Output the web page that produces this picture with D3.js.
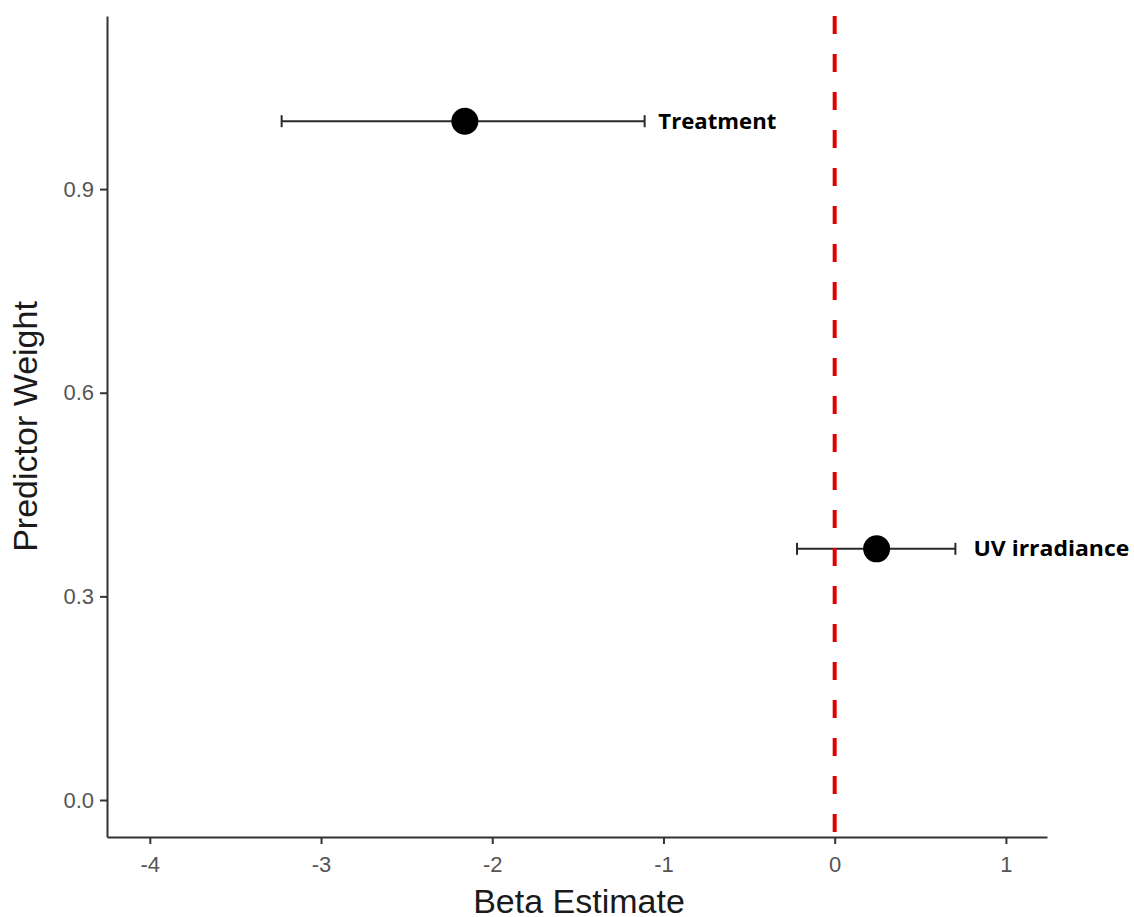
<!DOCTYPE html>
<html>
<head>
<meta charset="utf-8">
<script src="https://cdn.jsdelivr.net/npm/d3@7"></script>
<style>
  body { margin: 0; background: #fff; }
  .axis path, .axis line { stroke: #333; stroke-width: 2; }
  .axis text { fill: #555; font-family: "Liberation Sans", Arial, sans-serif; font-size: 22px; }
</style>
</head>
<body>
<div id="chartContainer"></div>
<script>
// predictors and their model-averaged estimates
var predictors = ["Treatment", "UV irradiance"];
var betaEstimate = [-2.16, 0.245];
var betaLow = [-3.23, -0.22];
var betaHigh = [-1.11, 0.705];
var predictorWeight = [1.0, 0.37];
// where the label text starts (beta units)
var labelAt = [-1.03, 0.81];

var xTicks = [-4, -3, -2, -1, 0, 1];
var yTicks = [0.0, 0.3, 0.6, 0.9];

var width = 1134;
var height = 917;
var margin = {top: 16, right: 87, bottom: 80, left: 107};

var svg = d3.select('#chartContainer')
    .append('svg')
    .attr("width", width)
    .attr("height", height);

svg.append('rect').attr("width", width).attr("height", height).attr("fill", "#fff");

var xScale = d3.scaleLinear().domain([-4.25, 1.24]).range([margin.left, width - margin.right]);
var yScale = d3.scaleLinear().domain([-0.0545, 1.155]).range([height - margin.bottom, margin.top]);

var rows = predictors.map(function(p, i) {
  return {name: p, est: betaEstimate[i], lo: betaLow[i], hi: betaHigh[i], w: predictorWeight[i], lab: labelAt[i]};
});

/*** axes ***/
var xAxis = d3.axisBottom(xScale).tickValues(xTicks).tickSize(7).tickSizeOuter(0).tickPadding(12)
    .tickFormat(function(d) { return String(d); });
svg.append('g').attr("class", "axis")
    .attr("transform", "translate(0," + (height - margin.bottom) + ")")
    .call(xAxis);

var yAxis = d3.axisLeft(yScale).tickValues(yTicks).tickSize(7).tickSizeOuter(0).tickPadding(6)
    .tickFormat(d3.format(".1f"));
svg.append('g').attr("class", "axis")
    .attr("transform", "translate(" + margin.left + ",0)")
    .call(yAxis);

// axis titles
svg.append('text')
    .attr("x", (margin.left + width - margin.right) / 2 + 2)
    .attr("y", 913)
    .attr("text-anchor", "middle")
    .style("font-family", "Liberation Sans, Arial, sans-serif")
    .style("font-size", "34px")
    .style("fill", "#1a1a1a")
    .text("Beta Estimate");

svg.append('text')
    .attr("transform", "translate(37," + (margin.top + height - margin.bottom) / 2 + ") rotate(-90)")
    .attr("text-anchor", "middle")
    .style("font-family", "Liberation Sans, Arial, sans-serif")
    .style("font-size", "34px")
    .style("fill", "#1a1a1a")
    .text("Predictor Weight");

/*** error bars ***/
var bars = svg.append('g').attr("class", "errorbars");
var capH = 6;

bars.selectAll('line.span').data(rows).enter().append('line')
    .attr("x1", function(d) { return xScale(d.lo); })
    .attr("x2", function(d) { return xScale(d.hi); })
    .attr("y1", function(d) { return yScale(d.w); })
    .attr("y2", function(d) { return yScale(d.w); })
    .attr("stroke", "#2a2a2a").attr("stroke-width", 2);

["lo", "hi"].forEach(function(k) {
  bars.selectAll('line.cap-' + k).data(rows).enter().append('line')
      .attr("x1", function(d) { return xScale(d[k]); })
      .attr("x2", function(d) { return xScale(d[k]); })
      .attr("y1", function(d) { return yScale(d.w) - capH; })
      .attr("y2", function(d) { return yScale(d.w) + capH; })
      .attr("stroke", "#2a2a2a").attr("stroke-width", 2);
});

// points
svg.append('g').selectAll('circle').data(rows).enter().append('circle')
    .attr("cx", function(d) { return xScale(d.est); })
    .attr("cy", function(d) { return yScale(d.w); })
    .attr("r", 13.5)
    .attr("fill", "#000");

// labels
var labelWidth = {"Treatment": 118, "UV irradiance": 156};
svg.append('g').selectAll('text').data(rows).enter().append('text')
    .attr("x", function(d) { return xScale(d.lab); })
    .attr("y", function(d) { return yScale(d.w); })
    .attr("dy", "0.36em")
    .attr("textLength", function(d) { return labelWidth[d.name]; })
    .attr("lengthAdjust", "spacingAndGlyphs")
    .style("font-family", "'Open Sans', sans-serif")
    .style("font-weight", "bold")
    .style("font-size", "21px")
    .style("fill", "#000")
    .text(function(d) { return d.name; });

// zero reference line, drawn on top
svg.append('line')
    .attr("x1", xScale(0)).attr("x2", xScale(0))
    .attr("y1", margin.top).attr("y2", height - margin.bottom)
    .attr("stroke", "#e00000")
    .attr("stroke-width", 4)
    .attr("stroke-dasharray", "18,20");
</script>
</body>
</html>
